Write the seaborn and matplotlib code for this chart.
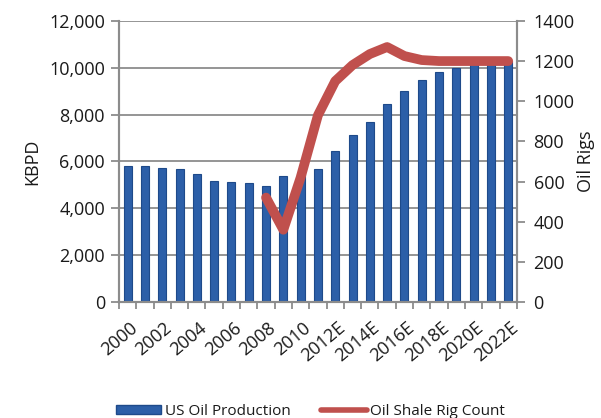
import numpy as np
import pandas as pd
import matplotlib
matplotlib.use("Agg")
import matplotlib.pyplot as plt
import seaborn as sns
from matplotlib.lines import Line2D
from matplotlib.patches import Patch

# US crude oil production (KBPD), actual and estimated
years = ["2000", "2001", "2002", "2003", "2004", "2005", "2006", "2007", "2008",
         "2009", "2010", "2011", "2012E", "2013E", "2014E", "2015E", "2016E",
         "2017E", "2018E", "2019E", "2020E", "2021E", "2022E"]
production = [5820, 5820, 5720, 5680, 5450, 5170, 5120, 5080, 4940,
              5370, 5480, 5660, 6450, 7140, 7690, 8440, 9000,
              9470, 9820, 10000, 10190, 10250, 10300]

# Oil shale rig count from 2008 onward
rig_years = ["2008", "2009", "2010", "2011", "2012E", "2013E", "2014E", "2015E",
             "2016E", "2017E", "2018E", "2019E", "2020E", "2021E", "2022E"]
rig_count = [520, 360, 620, 930, 1100, 1180, 1235, 1270,
             1225, 1205, 1200, 1200, 1200, 1200, 1200]

tick_labels = ["2000", "2002", "2004", "2006", "2008", "2010", "2012E",
               "2014E", "2016E", "2018E", "2020E", "2022E"]

sns.set_theme(style="white")
plt.rcParams["font.family"] = ["Open Sans", "DejaVu Sans"]

BAR = "#2C5FA8"
BAR_EDGE = "#1E4A8A"
LINE = "#C0504D"
GRID = "#8C8C8C"
TEXT = "#1A1A1A"

prod_df = pd.DataFrame({"year": years, "kbpd": production})
rig_df = pd.DataFrame({"pos": [years.index(y) for y in rig_years], "rigs": rig_count})

fig = plt.figure(figsize=(6.01, 4.18), dpi=100)
ax = fig.add_axes([0.198, 0.2775, 0.662, 0.6725])

sns.barplot(data=prod_df, x="year", y="kbpd", order=years, color=BAR,
            width=0.46, saturation=1, edgecolor=BAR_EDGE, linewidth=0.8, ax=ax,
            zorder=2)
ax.set_xlim(-0.5, len(years) - 0.5)
ax.set_ylim(0, 12000)
ax.set_yticks(np.arange(0, 12001, 2000))
ax.set_yticklabels([f"{v:,}" for v in range(0, 12001, 2000)])
ax.yaxis.grid(True, color=GRID, linewidth=1.3)
ax.set_axisbelow(True)

# Category boundaries get the small tick marks, labels go on every other year
ax.set_xticks(np.arange(-0.5, len(years) + 0.5, 1.0))
ax.set_xticklabels([])
ax.set_xticks([years.index(t) + 0.1 for t in tick_labels], minor=True)
ax.set_xticklabels(tick_labels, minor=True, rotation=40, ha="right",
                   rotation_mode="anchor", fontsize=13, color=TEXT)
ax.tick_params(axis="x", which="major", length=5, width=1.3, color=GRID,
               direction="out", bottom=True)
ax.tick_params(axis="x", which="minor", length=0, pad=12)
ax.tick_params(axis="y", length=6, width=1.3, color=GRID, direction="out",
               left=True, labelsize=13, pad=4, labelcolor=TEXT)
ax.set_xlabel("")
ax.set_ylabel("KBPD", fontsize=13, labelpad=6, color=TEXT)

for side in ["left", "right", "bottom"]:
    ax.spines[side].set_color(GRID)
    ax.spines[side].set_linewidth(1.5)
ax.spines["top"].set_visible(False)

ax2 = ax.twinx()
sns.lineplot(data=rig_df, x="pos", y="rigs", color=LINE, linewidth=7,
             solid_capstyle="round", solid_joinstyle="round", ax=ax2, zorder=3)
ax2.set_ylim(0, 1400)
ax2.set_yticks(np.arange(0, 1401, 200))
ax2.set_ylabel("Oil Rigs", fontsize=13, labelpad=2, color=TEXT)
ax2.set_xlim(-0.5, len(years) - 0.5)
ax2.tick_params(axis="y", length=6, width=1.3, color=GRID, direction="out",
                right=True, labelsize=13, pad=6, labelcolor=TEXT)
for side in ["left", "right", "bottom"]:
    ax2.spines[side].set_color(GRID)
    ax2.spines[side].set_linewidth(1.5)
ax2.spines["top"].set_visible(False)
ax2.grid(False)

handles = [Patch(facecolor=BAR, edgecolor=BAR_EDGE, label="US Oil Production"),
           Line2D([0], [0], color=LINE, linewidth=4, label="Oil Shale Rig Count")]
fig.legend(handles=handles, loc="lower center", bbox_to_anchor=(0.516, -0.035),
           ncol=2, frameon=False, fontsize=11, handlelength=3.0,
           handleheight=0.5, columnspacing=2.0, handletextpad=0.2,
           labelcolor=TEXT)

fig.savefig("out.png", dpi=100)
